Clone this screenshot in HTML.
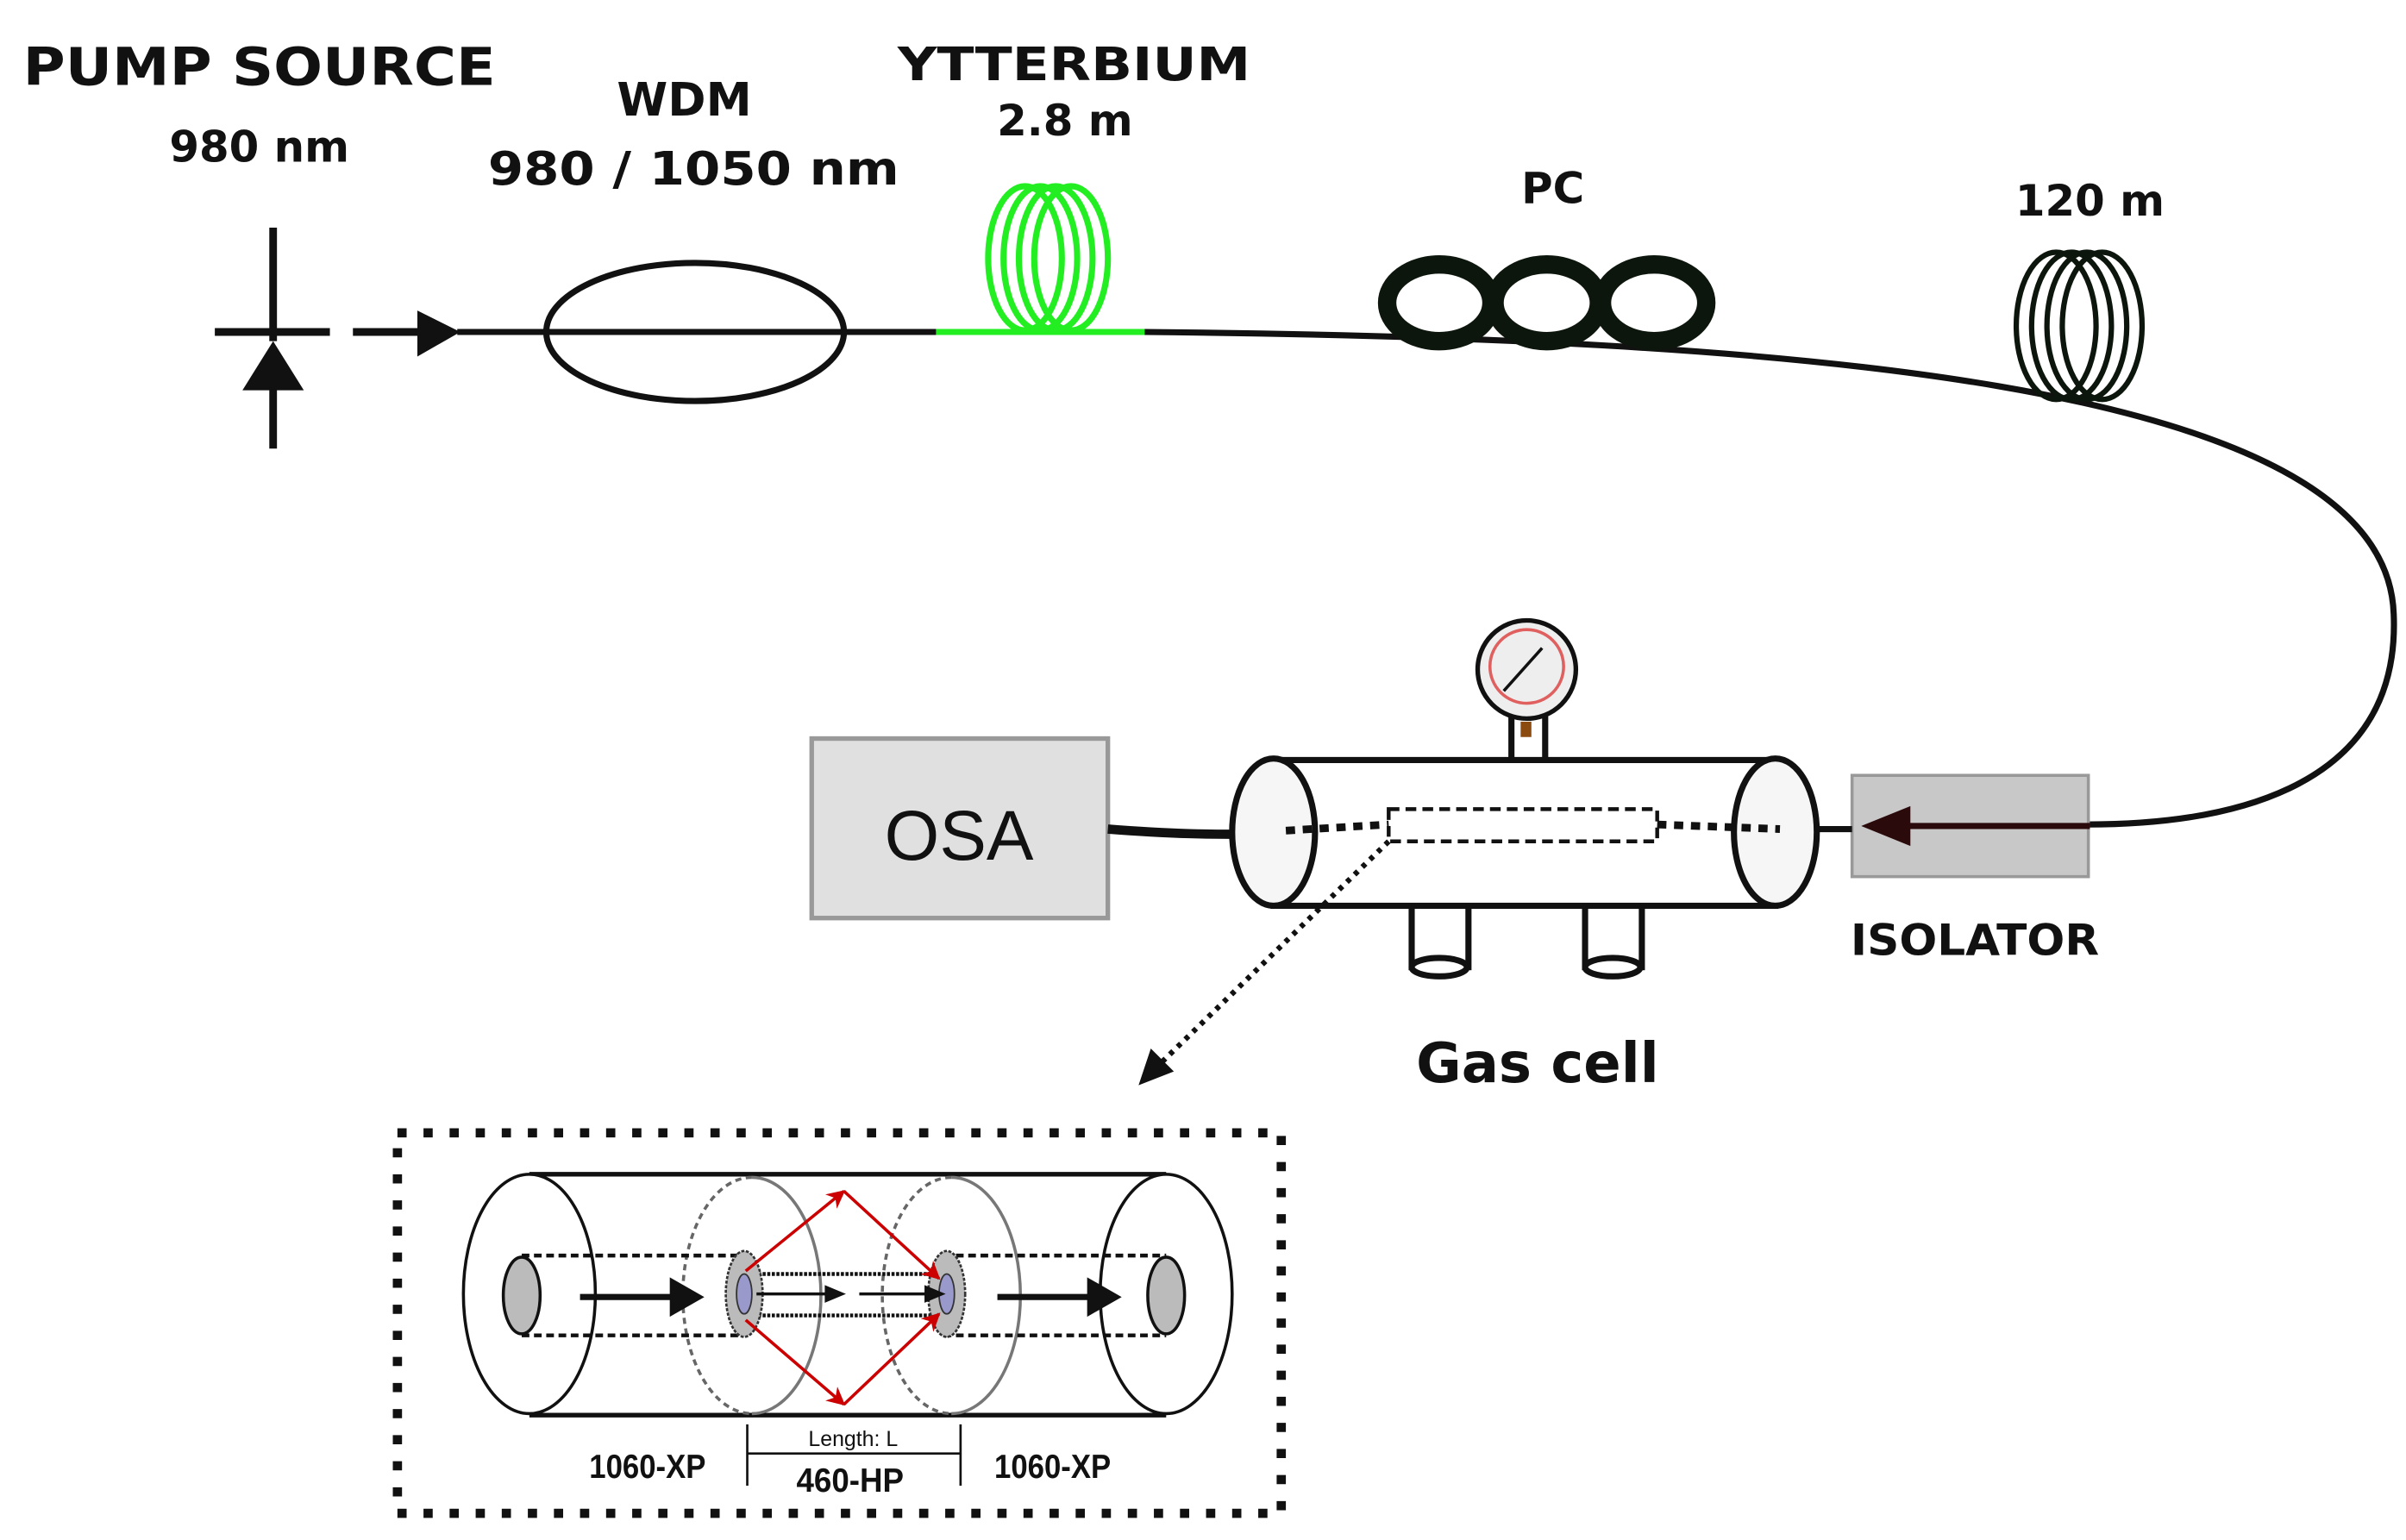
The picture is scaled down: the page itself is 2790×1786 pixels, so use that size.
<!DOCTYPE html>
<html><head><meta charset="utf-8"><style>html,body{margin:0;padding:0;background:#fff}svg{display:block}</style></head>
<body>
<svg width="2790" height="1786" viewBox="0 0 1568 1003" xmlns="http://www.w3.org/2000/svg" font-family="'DejaVu Sans','Liberation Sans',sans-serif">
<defs>
<marker id="ra" viewBox="0 0 10 10" refX="9" refY="5" markerWidth="6" markerHeight="6" orient="auto"><path d="M0,0 L10,5 L0,10 L3,5z" fill="#c00"/></marker>
</defs>
<!-- Top labels -->
<g font-weight="bold" fill="#111">
<text x="15" y="55" font-size="34" textLength="308" lengthAdjust="spacingAndGlyphs">PUMP SOURCE</text>
<text x="169" y="105" font-size="28" text-anchor="middle">980 nm</text>
<text x="446" y="75" font-size="30" text-anchor="middle">WDM</text>
<text x="452" y="120" font-size="30" text-anchor="middle" textLength="268" lengthAdjust="spacingAndGlyphs">980 / 1050 nm</text>
<text x="700" y="52" font-size="30" text-anchor="middle" textLength="230" lengthAdjust="spacingAndGlyphs">YTTERBIUM</text>
<text x="694" y="88" font-size="28" text-anchor="middle">2.8 m</text>
<text x="1012" y="132" font-size="28" text-anchor="middle">PC</text>
<text x="1362" y="140" font-size="28" text-anchor="middle">120 m</text>
<text x="1287" y="622" font-size="28" text-anchor="middle" textLength="162" lengthAdjust="spacingAndGlyphs">ISOLATOR</text>
<text x="1002" y="705" font-size="36" text-anchor="middle">Gas cell</text>
</g>
<!-- pump -->
<g stroke="#111" stroke-width="5" fill="none">
<line x1="178" y1="148" x2="178" y2="222"/>
<line x1="178" y1="250" x2="178" y2="292"/>
<line x1="140" y1="216" x2="215" y2="216"/>
<line x1="230" y1="216" x2="275" y2="216"/>
</g>
<polygon points="158,254 198,254 178,222" fill="#111"/>
<polygon points="272,202 300,216 272,232" fill="#111"/>
<line x1="298" y1="216" x2="612" y2="216" stroke="#111" stroke-width="4"/>
<ellipse cx="453" cy="216" rx="97" ry="45" fill="none" stroke="#111" stroke-width="4"/>
<!-- ytterbium -->
<line x1="610" y1="216" x2="748" y2="216" stroke="#22ee22" stroke-width="4"/>
<g fill="none" stroke="#22ee22" stroke-width="4">
<ellipse cx="668" cy="168" rx="24" ry="47"/><ellipse cx="678" cy="168" rx="24" ry="47"/><ellipse cx="688" cy="168" rx="24" ry="47"/><ellipse cx="698" cy="168" rx="24" ry="47"/>
</g>
<!-- fiber -->
<path d="M746,216 C1150,220 1555,245 1560,400 C1565,520 1440,537 1360,537" fill="none" stroke="#111" stroke-width="4"/>
<!-- PC -->
<g fill="none" stroke="#0d160d" stroke-width="12">
<ellipse cx="938" cy="197" rx="34" ry="25"/><ellipse cx="1008" cy="197" rx="34" ry="25"/><ellipse cx="1078" cy="197" rx="34" ry="25"/>
</g>
<!-- 120m coil -->
<g fill="none" stroke="#0d160d" stroke-width="3.5">
<ellipse cx="1340" cy="212" rx="26" ry="48"/><ellipse cx="1350" cy="212" rx="26" ry="48"/><ellipse cx="1360" cy="212" rx="26" ry="48"/><ellipse cx="1370" cy="212" rx="26" ry="48"/>
</g>
<!-- isolator -->
<rect x="1207" y="505" width="154" height="66" fill="#c8c8c8" stroke="#999" stroke-width="2"/>
<line x1="1240" y1="538" x2="1362" y2="538" stroke="#2a0a0a" stroke-width="4"/>
<polygon points="1213,538 1245,525 1245,551" fill="#2a0a0a"/>
<line x1="1160" y1="540" x2="1207" y2="540" stroke="#111" stroke-width="4"/>
<!-- OSA -->
<rect x="529" y="481" width="193" height="117" fill="#e0e0e0" stroke="#999" stroke-width="3"/>
<text x="625" y="560" font-size="46" text-anchor="middle" font-family="'Liberation Sans',sans-serif" fill="#111">OSA</text>
<path d="M722,540 C760,543 790,544 830,543" stroke="#111" stroke-width="6" fill="none"/>
<!-- gas cell -->
<g stroke="#111" stroke-width="4">
<rect x="920" y="585" width="37" height="45" fill="#fff"/>
<ellipse cx="938" cy="630" rx="18" ry="6" fill="#fff"/>
<rect x="1033" y="585" width="37" height="45" fill="#fff"/>
<ellipse cx="1051" cy="630" rx="18" ry="6" fill="#fff"/>
<rect x="830" y="495" width="327" height="95" fill="#fff"/>
<ellipse cx="830" cy="542" rx="27" ry="48" fill="#f6f6f6"/>
<ellipse cx="1157" cy="542" rx="27" ry="48" fill="#f6f6f6"/>
<rect x="985" y="460" width="22" height="35" fill="#fff"/>
</g>
<rect x="920" y="583" width="37" height="4" fill="#fff"/><rect x="1033" y="583" width="37" height="4" fill="#fff"/>
<circle cx="995" cy="436" r="32" fill="#eee" stroke="#111" stroke-width="3"/>
<circle cx="995" cy="434" r="24" fill="none" stroke="#e06060" stroke-width="2"/>
<line x1="980" y1="450" x2="1005" y2="422" stroke="#111" stroke-width="2"/>
<rect x="991" y="470" width="7" height="10" fill="#8a4a10"/>
<rect x="905" y="527" width="175" height="21" fill="none" stroke="#111" stroke-width="2.5" stroke-dasharray="7,4"/>
<line x1="838" y1="541" x2="905" y2="537" stroke="#111" stroke-width="5" stroke-dasharray="6,5"/>
<line x1="1080" y1="537" x2="1160" y2="540" stroke="#111" stroke-width="5" stroke-dasharray="6,5"/>
<line x1="905" y1="548" x2="755" y2="694" stroke="#111" stroke-width="3.5" stroke-dasharray="3,4"/>
<polygon points="742,707 750,683 765,698" fill="#111"/>
<!-- inset -->
<rect x="259" y="738" width="576" height="248" fill="none" stroke="#111" stroke-width="6" stroke-dasharray="6,11"/>
<g fill="none" stroke="#111" stroke-width="2">
<line x1="345" y1="765" x2="760" y2="765" stroke-width="3"/>
<line x1="345" y1="922" x2="760" y2="922" stroke-width="3"/>
<ellipse cx="345" cy="843" rx="43" ry="78" fill="#fff"/>
<path d="M760,765 A43,78 0 0,1 760,921 A43,78 0 0,1 760,765" fill="#fff"/>
<path d="M490,767 A45,77 0 0,0 490,921" stroke="#666" stroke-dasharray="4,3"/>
<path d="M490,767 A45,77 0 0,1 490,921" stroke="#777"/>
<path d="M620,767 A45,77 0 0,0 620,921" stroke="#666" stroke-dasharray="4,3"/>
<path d="M620,767 A45,77 0 0,1 620,921" stroke="#777"/>
<path d="M340,818 H483 M340,870 H483 M615,818 H760 M615,870 H760" stroke-dasharray="5,3" stroke-width="2.5"/>
<path d="M485,830 H615 M485,857 H615" stroke-dasharray="2,1" stroke-width="2.5"/>
</g>
<ellipse cx="340" cy="844" rx="12" ry="25" fill="#bbb" stroke="#111" stroke-width="2"/>
<ellipse cx="760" cy="844" rx="12" ry="25" fill="#bbb" stroke="#111" stroke-width="2"/>
<ellipse cx="485" cy="843" rx="12" ry="28" fill="#bbb" stroke="#333" stroke-width="1.5" stroke-dasharray="2,1"/>
<ellipse cx="617" cy="843" rx="12" ry="28" fill="#bbb" stroke="#333" stroke-width="1.5" stroke-dasharray="2,1"/>
<ellipse cx="485" cy="843" rx="5" ry="13" fill="#9999cc" stroke="#333" stroke-width="1"/>
<ellipse cx="617" cy="843" rx="5" ry="13" fill="#9999cc" stroke="#333" stroke-width="1"/>
<g stroke="#c00" stroke-width="2" fill="none" marker-end="url(#ra)">
<line x1="486" y1="828" x2="550" y2="776"/>
<line x1="550" y1="776" x2="612" y2="833"/>
<line x1="486" y1="860" x2="550" y2="915"/>
<line x1="550" y1="915" x2="612" y2="856"/>
</g>
<g stroke="#111" fill="#111">
<line x1="378" y1="845" x2="440" y2="845" stroke-width="4"/><polygon points="437,833 458,845 437,857"/>
<line x1="650" y1="845" x2="712" y2="845" stroke-width="4"/><polygon points="709,833 730,845 709,857"/>
<line x1="493" y1="843" x2="540" y2="843" stroke-width="2"/><polygon points="538,838 550,843 538,848"/>
<line x1="560" y1="843" x2="605" y2="843" stroke-width="2"/><polygon points="603,838 615,843 603,848"/>
</g>
<g stroke="#111" stroke-width="1.5"><line x1="487" y1="928" x2="487" y2="968"/><line x1="626" y1="928" x2="626" y2="968"/><line x1="487" y1="947" x2="626" y2="947"/></g>
<g fill="#111" font-family="'Liberation Sans Narrow','Liberation Sans',sans-serif">
<text x="422" y="963" font-size="22" font-weight="bold" text-anchor="middle" textLength="76" lengthAdjust="spacingAndGlyphs">1060-XP</text>
<text x="686" y="963" font-size="22" font-weight="bold" text-anchor="middle" textLength="76" lengthAdjust="spacingAndGlyphs">1060-XP</text>
<text x="554" y="972" font-size="22" font-weight="bold" text-anchor="middle" textLength="70" lengthAdjust="spacingAndGlyphs">460-HP</text>
<text x="556" y="942" font-size="14" text-anchor="middle">Length: L</text>
</g>
</svg>
</body></html>
